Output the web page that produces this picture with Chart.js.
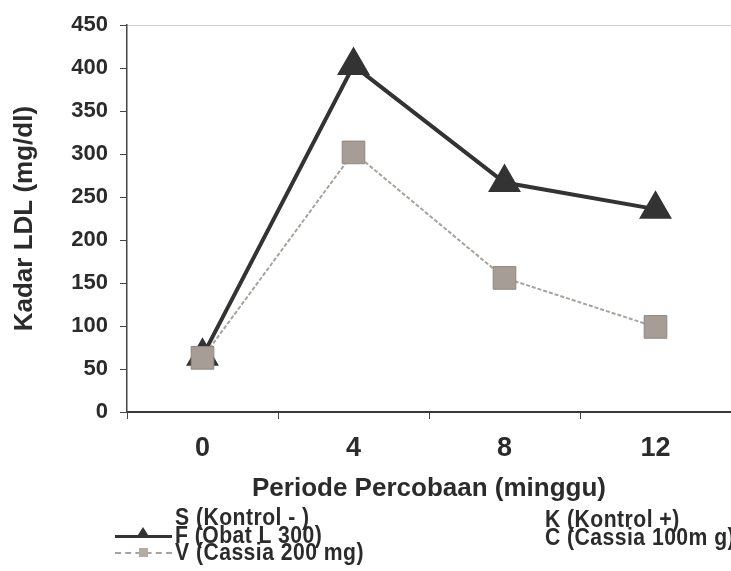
<!DOCTYPE html>
<html lang="id">
<head>
  <meta charset="UTF-8" />
  <title>Kadar LDL</title>
  <script src="https://cdn.jsdelivr.net/npm/chart.js"></script>
  <style>
    body {
      margin: 0;
      background: #fff;
      font-family: Arial, "Liberation Sans", sans-serif;
      overflow: hidden;
    }

    .wrap {
      position: relative;
      width: 731px;
      height: 571px;
    }

    canvas { display: block; }

    .legenda {
      position: absolute;
      font-family: Arial, "Liberation Sans", sans-serif;
      font-weight: bold;
      font-size: 23px;
      line-height: 17.5px;
      color: #2b2b2b;
      letter-spacing: 0.5px;
      white-space: nowrap;
    }

    .legenda div { position: relative; height: 17.5px; }

    .legenda .teks {
      display: inline-block;
      transform: scaleX(0.92);
      transform-origin: left center;
    }

    .garis {
      position: absolute;
      left: -60px;
      top: 8px;
      width: 57px;
      height: 0;
    }

    .garis.f { border-top: 3px solid #333; }
    .garis.v { border-top: 2px dashed #aaa39d; }

    .garis.f::after {
      content: "";
      position: absolute;
      left: 21px;
      top: -11px;
      border-left: 7px solid transparent;
      border-right: 7px solid transparent;
      border-bottom: 11px solid #333;
    }

    .garis.v::after {
      content: "";
      position: absolute;
      left: 24px;
      top: -6px;
      width: 9px;
      height: 9px;
      background: #b3aca5;
    }
  </style>
</head>
<body>
<div class="wrap">
  <canvas id="grafik" width="731" height="571"></canvas>

  <div class="legenda" style="left:175px; top:509px;">
    <div><span class="teks">S (Kontrol - )</span></div>
    <div><span class="garis f"></span><span class="teks">F (Obat L 300)</span></div>
    <div><span class="garis v"></span><span class="teks">V (Cassia 200 mg)</span></div>
  </div>
  <div class="legenda" style="left:545px; top:511px;">
    <div><span class="teks">K (Kontrol +)</span></div>
    <div><span class="teks">C (Cassia 100m g)</span></div>
  </div>
</div>
<script>
  // data
  const minggu = ['0', '4', '8', '12'];
  const obatL300 = [65, 403, 267, 236];
  const cassia200 = [63, 302, 156, 99];
  const yTicks = [0, 50, 100, 150, 200, 250, 300, 350, 400, 450];

  const ctx = document.getElementById('grafik').getContext('2d');
  new Chart(ctx, {
    type: 'line',
    data: {
      labels: minggu,
      datasets: [
        {
          label: 'V (Cassia 200 mg)',
          data: cassia200,
          borderColor: '#a8a29c',
          borderWidth: 2,
          borderDash: [4, 2],
          backgroundColor: '#a59d96',
          pointBackgroundColor: '#a59d96',
          pointBorderColor: '#8f8780',
          pointBorderWidth: 1,
          pointStyle: 'rect',
          pointRadius: 16,
          order: 0
        },
        {
          label: 'F (Obat L 300)',
          data: obatL300,
          borderColor: '#333',
          borderWidth: 4,
          backgroundColor: '#333',
          pointBackgroundColor: '#333',
          pointBorderColor: '#333',
          pointStyle: 'triangle',
          pointRadius: 15,
          order: 1
        }
      ]
    },
    options: {
      responsive: false,
      animation: false,
      layout: {
        autoPadding: false,
        padding: { top: 23, right: 0, bottom: 67, left: 0 }
      },
      plugins: {
        legend: { display: false },
        tooltip: { enabled: false }
      },
      scales: {
        x: {
          offset: true,
          afterFit: s => { s.height = 92; },
          grid: {
            offset: true,
            drawOnChartArea: false,
            tickLength: 7,
            tickColor: '#444'
          },
          border: { color: '#3a3a3a', width: 2 },
          ticks: {
            color: '#2b2b2b',
            padding: 13,
            font: { family: 'Arial, "Liberation Sans"', size: 27, weight: 'bold' }
          },
          title: {
            display: true,
            text: 'Periode Percobaan (minggu)',
            color: '#2b2b2b',
            padding: { top: 0, bottom: 0 },
            font: { family: 'Arial, "Liberation Sans"', size: 26, weight: 'bold' }
          }
        },
        y: {
          min: 0,
          max: 450,
          afterFit: s => { s.width = 127; },
          afterBuildTicks: s => { s.ticks = yTicks.map(v => ({ value: v })); },
          grid: {
            drawOnChartArea: true,
            color: c => (c.tick && c.tick.value === 450 ? '#cfcfcf' : 'transparent'),
            tickColor: '#444',
            tickLength: 7
          },
          border: { color: '#444', width: 1.5 },
          ticks: {
            color: '#2b2b2b',
            padding: 12,
            font: { family: 'Arial, "Liberation Sans"', size: 22, weight: 'bold' }
          },
          title: {
            display: true,
            text: 'Kadar LDL (mg/dl)',
            color: '#2b2b2b',
            padding: { top: 9, bottom: 0 },
            font: { family: 'Arial, "Liberation Sans"', size: 26, weight: 'bold' }
          }
        }
      }
    }
  });
</script>
</body>
</html>
